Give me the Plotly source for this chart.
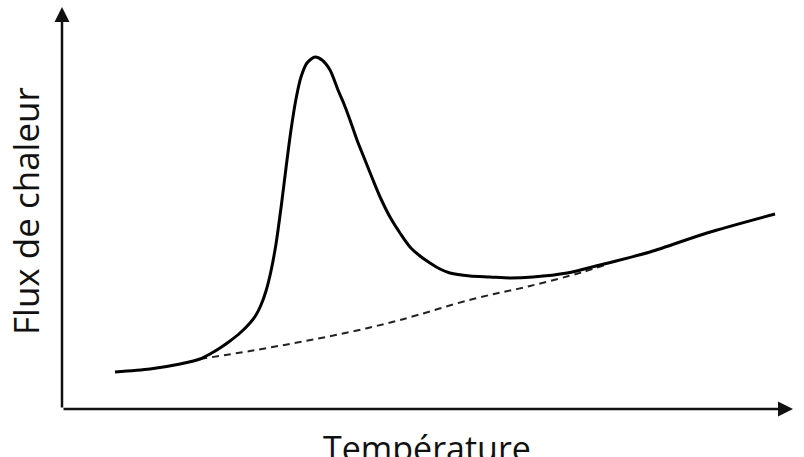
import plotly.graph_objects as go

# Schematic DSC-like curve (arbitrary units)
temp_curve = [53, 88, 118, 138, 148, 158, 168, 178, 188, 194, 199, 204, 209, 214, 219, 224,
              229, 234, 239, 245, 253, 260, 268, 276, 282, 288, 295, 303, 311, 319, 328, 338,
              348, 358, 368, 378, 388, 408, 428, 448, 471, 505, 538, 588, 645, 713]
flux_curve = [37, 40, 45, 50, 55, 61, 68, 76, 86, 94, 104, 118, 138, 165, 201, 241,
              279, 310, 332, 346, 352, 349, 339, 319, 305, 289, 269, 249, 229, 210, 192, 176,
              162, 153, 146, 140, 136, 133, 132, 131, 132, 136, 144, 157, 176, 195]

temp_base = [138, 188, 238, 288, 338, 411, 468, 521, 543]
flux_base = [50, 58, 67, 77, 89, 110, 123, 137, 144]

x_label = "Température"
y_label = "Flux de chaleur"

fig = go.Figure()
fig.add_trace(go.Scatter(x=temp_base, y=flux_base, mode="lines",
                         line=dict(color="#222", width=2, dash="7px,5px", shape="spline"),
                         hoverinfo="skip"))
fig.add_trace(go.Scatter(x=temp_curve, y=flux_curve, mode="lines",
                         line=dict(color="#000", width=3, shape="spline", smoothing=0.8),
                         hoverinfo="skip"))

axis_common = dict(showgrid=False, zeroline=False, showticklabels=False, showline=False, ticks="")
fig.update_layout(
    width=804, height=457,
    margin=dict(l=62, r=0, t=0, b=48),
    paper_bgcolor="white", plot_bgcolor="white",
    showlegend=False,
    xaxis=dict(range=[0, 742], **axis_common),
    yaxis=dict(range=[0, 409], **axis_common),
    annotations=[
        dict(x=731, y=0, ax=0, ay=0, xref="x", yref="y", axref="x", ayref="y",
             showarrow=True, arrowhead=2, arrowsize=1.2, arrowwidth=2.5, arrowcolor="#111", text=""),
        dict(x=0, y=402, ax=0, ay=0, xref="x", yref="y", axref="x", ayref="y",
             showarrow=True, arrowhead=2, arrowsize=1.2, arrowwidth=2.5, arrowcolor="#111", text=""),
        dict(x=(427 - 62) / 742, y=(409 - 448) / 409, xref="paper", yref="paper",
             text=x_label, showarrow=False, xanchor="center", yanchor="middle",
             font=dict(family="Open Sans", size=34, color="#111")),
        dict(x=(25 - 62) / 742, y=(409 - 211) / 409, xref="paper", yref="paper",
             text=y_label, showarrow=False, xanchor="center", yanchor="middle", textangle=-90,
             font=dict(family="Open Sans", size=35, color="#111")),
    ],
)

fig.write_html("out.html")
